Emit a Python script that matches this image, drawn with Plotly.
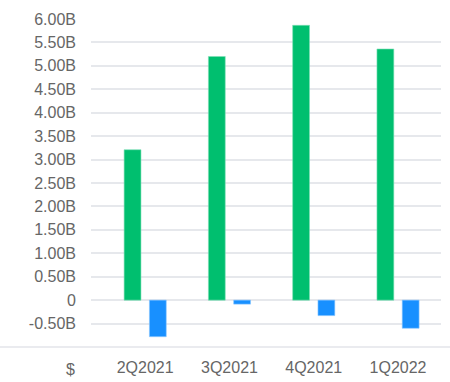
import plotly.graph_objects as go

categories = ["2Q2021", "3Q2021", "4Q2021", "1Q2022"]
series_green = [3.21e9, 5.20e9, 5.865e9, 5.36e9]
series_blue = [-0.78e9, -0.085e9, -0.33e9, -0.60e9]
tick_vals = [-0.5e9, 0, 0.5e9, 1e9, 1.5e9, 2e9, 2.5e9, 3e9, 3.5e9, 4e9, 4.5e9, 5e9, 5.5e9, 6e9]
tick_text = ["-0.50B", "0", "0.50B", "1.00B", "1.50B", "2.00B", "2.50B", "3.00B",
             "3.50B", "4.00B", "4.50B", "5.00B", "5.50B", "6.00B"]

GREEN = "#00BF6F"
BLUE = "#1890FF"
TXT = "#666666"
FS = 16

fig = go.Figure()
fig.add_trace(go.Bar(x=categories, y=series_green, width=0.2, offset=-0.25,
                     marker=dict(color=GREEN, line=dict(color="#7fdfb7", width=0.6)),
                     hoverinfo="y"))
fig.add_trace(go.Bar(x=categories, y=series_blue, width=0.2, offset=0.05,
                     marker=dict(color=BLUE, line=dict(color="#8bc7ff", width=0.6)),
                     hoverinfo="y"))

L, R, T, B = 91, 9, 19, 35
W, H = 450, 382
pw = W - L - R

fig.update_layout(
    width=W, height=H,
    margin=dict(l=L, r=R, t=T, b=B, autoexpand=False),
    plot_bgcolor="white", paper_bgcolor="white",
    showlegend=False, barmode="overlay",
    font=dict(family="Liberation Sans, Arial, sans-serif", size=FS, color=TXT),
    xaxis=dict(type="category", range=[-0.643, 3.51], showgrid=False, zeroline=False,
               showline=False, ticks="", ticklabelstandoff=9, automargin=False,
               tickfont=dict(size=FS, color=TXT)),
    yaxis=dict(range=[-1e9, 6e9], tickvals=tick_vals, ticktext=tick_text,
               showgrid=True, gridcolor="#e6e8ec", gridwidth=1.5, zeroline=False,
               showline=False, ticks="", ticklabelstandoff=14, automargin=False,
               tickfont=dict(size=FS, color=TXT)),
    shapes=[dict(type="line", xref="paper", yref="paper",
                 x0=-L / pw, x1=(W - L) / pw, y0=0, y1=0,
                 line=dict(color="#e3e5ea", width=1.5))],
    annotations=[dict(text="$", xref="paper", yref="paper",
                      x=(70.7 - L) / pw, y=-(369 - (H - B)) / (H - T - B),
                      xanchor="center", yanchor="middle", showarrow=False,
                      font=dict(size=FS, color=TXT))],
)

fig.write_html("out.html", config={"displayModeBar": False},
               post_script="document.body.style.margin='0';document.body.style.overflow='hidden';")
